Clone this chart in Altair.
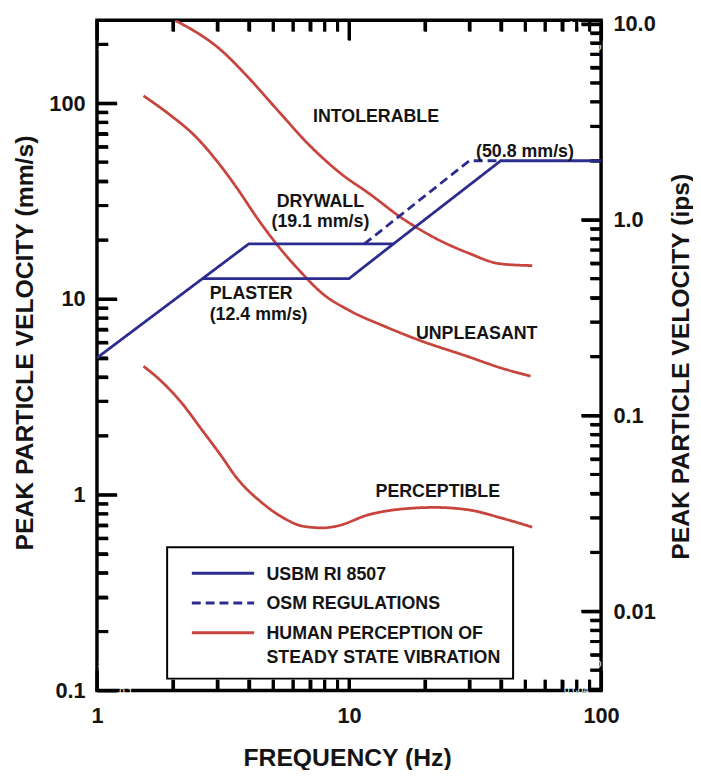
import altair as alt
import pandas as pd

FONT = "Liberation Sans"
BLUE = "#2b2c8e"
RED = "#c8453f"
INK = "#141414"

# ---- series (Hz, mm/s) ----
usbm_f = [1, 4, 15, 40, 100]
usbm_v = [5.0, 19.1, 19.1, 50.8, 50.8]
plaster_f = [2.62, 10, 15]
plaster_v = [12.7, 12.7, 19.1]
osm_f = [11.5, 30, 40]
osm_v = [19.1, 50.8, 50.8]

intol_f = [2.04, 3.10, 3.95, 5.17, 6.98, 9.45, 12.0, 16.2, 21.9, 29.6, 40.1, 53.3]
intol_v = [265, 187, 137, 93.0, 60.8, 42.9, 34.6, 25.9, 20.5, 17.2, 15.1, 14.8]
unpl_f = [1.53, 1.97, 2.44, 3.01, 3.60, 4.32, 5.17, 6.38, 7.88, 10.0, 14.0, 18.9, 29.6, 40.1, 52.5]
unpl_v = [109, 86.2, 68.3, 50.1, 36.7, 25.9, 19.0, 13.9, 10.6, 8.75, 7.20, 6.17, 5.08, 4.44, 4.03]
perc_f = [1.53, 1.80, 2.16, 2.59, 3.10, 3.60, 4.45, 5.50, 6.58, 7.88, 8.89, 12.0, 16.2, 21.9, 29.6, 40.1, 53.3]
perc_v = [4.53, 3.80, 2.96, 2.17, 1.59, 1.21, 0.924, 0.761, 0.690, 0.677, 0.690, 0.791, 0.845, 0.861, 0.838, 0.761, 0.683]

series_names = ["USBM RI 8507", "OSM REGULATIONS", "HUMAN PERCEPTION OF STEADY STATE VIBRATION"]

# ---- annotations ----
ann_label = ["INTOLERABLE", "DRYWALL", "(19.1 mm/s)", "(50.8 mm/s)", "UNPLEASANT", "PERCEPTIBLE"]
ann_f = [12.8, 7.7, 7.7, 49.9, 32.1, 22.5]
ann_v = [85, 31.4, 24.6, 56.2, 6.58, 1.035]
left_label = ["PLASTER", "(12.4 mm/s)"]
left_f = [2.80, 2.80]
left_v = [10.6, 8.26]

# ---- tick values ----
x_major = [1, 10, 100]
y_major = [0.1, 1, 10, 100]
ips_major = [0.01, 0.1, 1, 10]
x_minor = [round(m * d, 6) for d in [1, 10] for m in range(2, 10)]
y_minor = [round(m * d, 6) for d in [0.1, 1, 10, 100] for m in range(2, 10) if m * d < 265]
ips_minor = [round(m * d, 6) for d in [0.001, 0.01, 0.1, 1] for m in range(2, 10) if m * d > 0.0039]

rows = []
def add(series, seg, fs, vs):
    for i, (f, v) in enumerate(zip(fs, vs)):
        rows.append(dict(series=series, seg=seg, i=i, f=f, v=v, ips=v / 25.4))

add(series_names[0], "usbm", usbm_f, usbm_v)
add(series_names[0], "plaster", plaster_f, plaster_v)
add(series_names[1], "osm", osm_f, osm_v)
add(series_names[2], "intol", intol_f, intol_v)
add(series_names[2], "unpl", unpl_f, unpl_v)
add(series_names[2], "perc", perc_f, perc_v)
df = pd.DataFrame(rows)
blue_df = df[df.series != series_names[2]]
red_df = df[df.series == series_names[2]]

ann_df = pd.DataFrame(dict(label=ann_label, f=ann_f, v=ann_v))
left_df = pd.DataFrame(dict(label=left_label, f=left_f, v=left_v))

W, H = 510, 678
MAJ, MIN = 20, 11
XS = alt.Scale(type="log", domain=[1, 100], nice=False)
YS = alt.Scale(type="log", domain=[0.1, 265], nice=False)
IPS = alt.Scale(type="log", domain=[0.1 / 25.4, 265 / 25.4], nice=False)

lab = dict(labelFont=FONT, labelFontSize=22, labelFontWeight="bold", labelColor=INK)
tit = dict(titleFont=FONT, titleFontSize=25, titleFontWeight="bold", titleColor=INK)

legend = alt.Legend(
    title=" ", titleFontSize=2, titlePadding=10,
    orient="none", legendX=71, legendY=533,
    symbolType="M-6.3,-1.3L6.3,-1.3", symbolSize=100, symbolStrokeWidth=3,
    symbolOffset=35.5, labelOffset=35,
    labelFont=FONT, labelFontSize=18, labelFontWeight="bold", labelColor=INK,
    labelBaseline="alphabetic", labelLimit=400,
    labelExpr="datum.label == 'HUMAN PERCEPTION OF STEADY STATE VIBRATION' ? ['HUMAN PERCEPTION OF', 'STEADY STATE VIBRATION'] : datum.label",
    padding=12, rowPadding=12, strokeColor="black", fillColor="white",
)
color = alt.Color("series:N", scale=alt.Scale(domain=series_names, range=[BLUE, BLUE, RED]), legend=legend)
dash = alt.StrokeDash("series:N", scale=alt.Scale(domain=series_names, range=[[1, 0], [9, 5], [1, 0]]), legend=legend)

blue = alt.Chart(blue_df).mark_line(strokeWidth=2.8, clip=True).encode(
    x=alt.X("f:Q", scale=XS, axis=alt.Axis(
        orient="bottom", values=x_major, format="~g", ticks=False, tickSize=0, domain=False, grid=False,
        labelPadding=15, labelBaseline="top", labelFlush=False, **lab,
        title="FREQUENCY (Hz)", titleX=253, titleY=76, titleBaseline="alphabetic", titleAlign="center", **tit)),
    y=alt.Y("v:Q", scale=YS, axis=alt.Axis(
        orient="left", values=y_major, format="~g", ticks=False, tickSize=0, domain=False, grid=False,
        labelPadding=12, labelFlush=False, **lab,
        title="PEAK PARTICLE VELOCITY (mm/s)", titleAngle=270, titleX=-65, titleY=326,
        titleBaseline="alphabetic", titleAlign="center", **tit)),
    color=color, strokeDash=dash, detail="seg:N", order="i:Q",
)

red = alt.Chart(red_df).mark_line(strokeWidth=2.8, clip=True, interpolate="monotone").encode(
    x=alt.X("f:Q", scale=XS, axis=None),
    y=alt.Y("v:Q", scale=YS, axis=None),
    color=color, strokeDash=dash, detail="seg:N", order="i:Q",
)

# inward tick marks drawn by axes flipped onto the opposite frame edge
def tick_axis(orient, offset, values, size):
    return alt.Axis(orient=orient, offset=offset, values=values, labels=True, labelColor="white",
                    domain=False, grid=False, ticks=True, tickSize=size, tickWidth=3,
                    tickColor="black", title=None)

def tick_layer(xo, xvals, yfield, yscale, yo, yvals, size):
    return alt.Chart(df).mark_point(opacity=0, size=1).encode(
        x=alt.X("f:Q", scale=XS, axis=tick_axis(xo, -H, xvals, size)),
        y=alt.Y(yfield, scale=yscale, axis=tick_axis(yo, -W, yvals, size)),
    )

axis_ticks = [
    tick_layer("top", x_minor, "v:Q", YS, "right", y_minor, MIN),
    tick_layer("top", x_major, "v:Q", YS, "right", y_major, MAJ),
    tick_layer("bottom", x_minor, "ips:Q", IPS, "left", ips_minor, MIN),
    tick_layer("bottom", x_major, "ips:Q", IPS, "left", ips_major, MAJ),
]

# the same tick marks as rules placed through the scales (fixed pixel length)
def y_rules(vals, scale, x0, x1):
    return alt.Chart(pd.DataFrame({"t": vals})).mark_rule(color="black", strokeWidth=3).encode(
        y=alt.Y("t:Q", scale=scale, axis=None), x=alt.value(x0), x2=alt.value(x1))

def x_rules(vals, y0, y1):
    return alt.Chart(pd.DataFrame({"t": vals})).mark_rule(color="black", strokeWidth=3).encode(
        x=alt.X("t:Q", scale=XS, axis=None), y=alt.value(y0), y2=alt.value(y1))

rule_ticks = [
    y_rules(y_minor, YS, 0, MIN), y_rules(y_major, YS, 0, MAJ),
    y_rules(ips_minor, IPS, W, W - MIN), y_rules(ips_major, IPS, W, W - MAJ),
    x_rules(x_minor, H, H - MIN), x_rules(x_major, H, H - MAJ),
    x_rules(x_minor, 0, MIN), x_rules(x_major, 0, MAJ),
]

right_lab = alt.Chart(df).mark_point(opacity=0, size=1).encode(
    x=alt.X("f:Q", scale=XS, axis=None),
    y=alt.Y("ips:Q", scale=IPS, axis=alt.Axis(
        orient="right", values=ips_major, ticks=False, tickSize=0, domain=False, grid=False,
        labelExpr="datum.value >= 1 ? format(datum.value, '.1f') : format(datum.value, '~g')",
        labelPadding=12, labelFlush=False, **lab,
        title="PEAK PARTICLE VELOCITY (ips)", titleAngle=270, titleX=88, titleY=350,
        titleBaseline="alphabetic", titleAlign="center", **tit)),
)

txt = alt.Chart(ann_df).mark_text(font=FONT, fontSize=18, fontWeight="bold", color=INK,
                                   align="center", baseline="middle").encode(
    x=alt.X("f:Q", scale=XS, axis=None), y=alt.Y("v:Q", scale=YS, axis=None), text="label:N")
txt_left = alt.Chart(left_df).mark_text(font=FONT, fontSize=18, fontWeight="bold", color=INK,
                                        align="left", baseline="middle").encode(
    x=alt.X("f:Q", scale=XS, axis=None), y=alt.Y("v:Q", scale=YS, axis=None), text="label:N")

chart = alt.layer(*axis_ticks, *rule_ticks, right_lab, red, blue, txt, txt_left).resolve_scale(
    x="independent", y="independent"
).properties(
    width=W, height=H,
    autosize=alt.AutoSizeParams(type="none"),
    padding={"left": 90, "top": 8, "right": 93, "bottom": 76},
).configure(
    style={"guide-label": {"lineHeight": 24}},
    view=alt.ViewConfig(stroke="black", strokeWidth=3.5),
    legend=alt.LegendConfig(strokeWidth=2),
)

chart.save("out.html", embed_options={"renderer": "svg", "actions": False})
